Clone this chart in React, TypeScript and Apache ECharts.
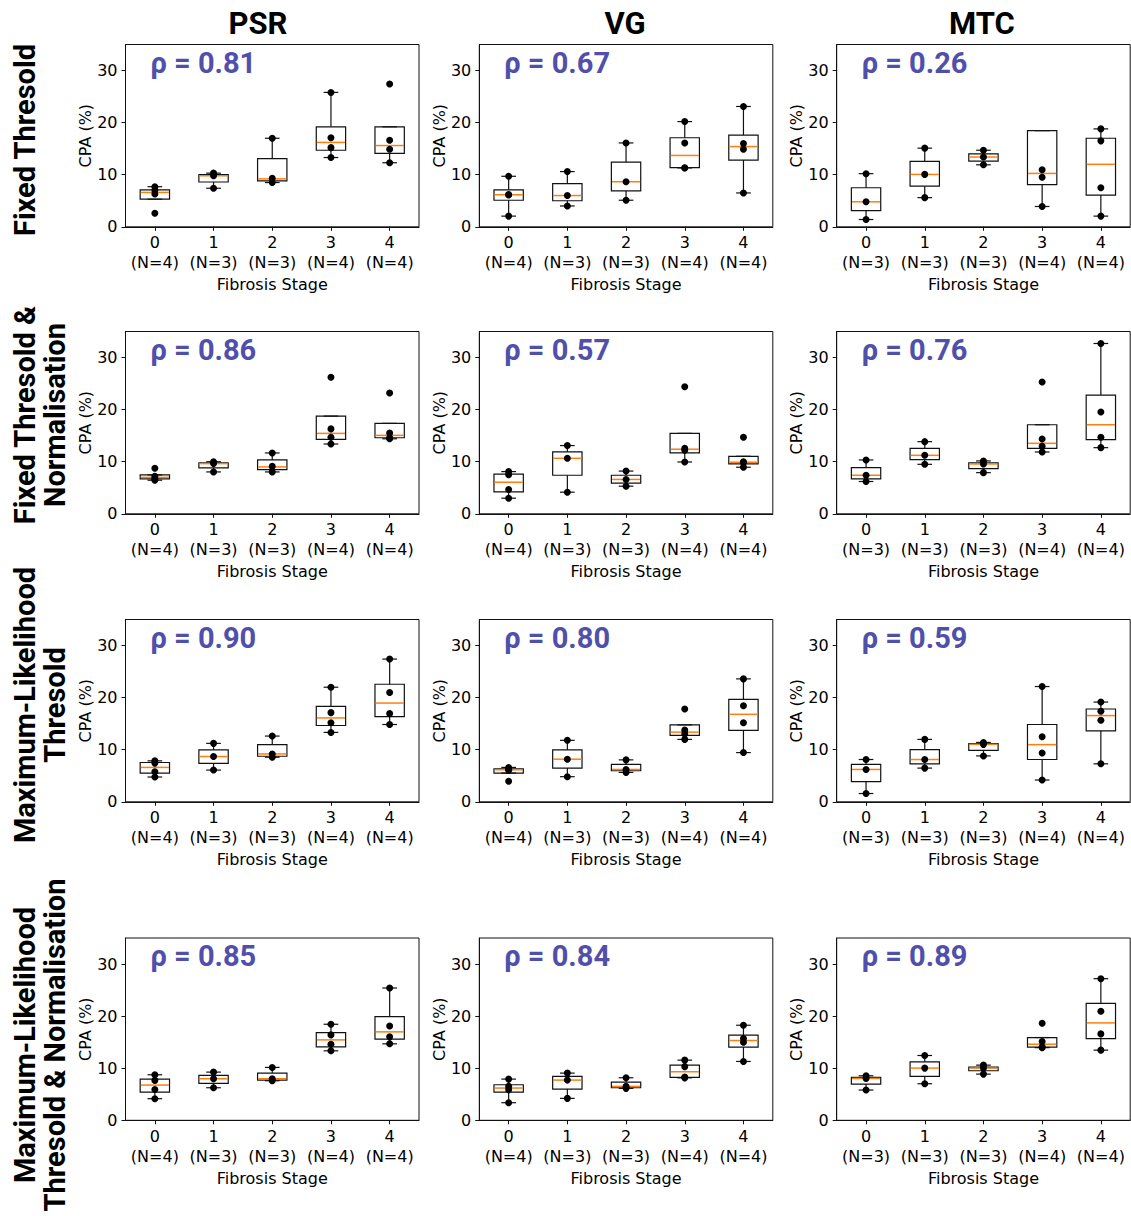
import React, { useEffect, useRef } from 'react';
import * as echarts from 'echarts';

// ---------- data ----------
const stages = ['0', '1', '2', '3', '4'];
const methods = ['PSR', 'VG', 'MTC'];
const nPSR = [4, 3, 3, 4, 4];
const nVG = [4, 3, 3, 4, 4];
const nMTC = [3, 3, 3, 4, 4];
const yTicks = [0, 10, 20, 30];

const rhoFixed = [0.81, 0.67, 0.26];
const rhoFixedNorm = [0.86, 0.57, 0.76];
const rhoML = [0.9, 0.8, 0.59];
const rhoMLNorm = [0.85, 0.84, 0.89];

// box stats per stage: [lowWhisker, Q1, median, Q3, highWhisker]
const fixedPSRBoxes = [[5.3, 5.3, 6.6, 7.1, 7.7], [7.4, 8.6, 9.8, 10.0, 10.3], [8.5, 8.8, 9.2, 13.1, 17.0], [13.3, 14.7, 16.2, 19.2, 25.8], [12.3, 14.1, 15.6, 19.2, 19.2]];
const fixedPSRPoints = [[2.6, 6.3, 7.0, 7.7], [7.4, 9.8, 10.3], [8.5, 9.3, 17.0], [13.3, 15.2, 17.1, 25.8], [12.3, 14.9, 16.6, 27.4]];
const fixedVGBoxes = [[2.05, 5.1, 6.15, 7.1, 9.7], [4.0, 5.0, 6.0, 8.3, 10.6], [5.1, 6.9, 8.65, 12.4, 16.1], [11.3, 11.35, 13.7, 17.1, 20.2], [6.5, 12.8, 15.4, 17.6, 23.1]];
const fixedVGPoints = [[2.05, 6.1, 6.2, 9.7], [4.0, 6.0, 10.6], [5.1, 8.65, 16.1], [11.3, 11.35, 16.1, 20.2], [6.5, 14.9, 16.0, 23.1]];
const fixedMTCBoxes = [[1.4, 3.1, 4.8, 7.5, 10.2], [5.6, 7.8, 10.06, 12.56, 15.1], [11.9, 12.6, 13.4, 14.0, 14.7], [3.9, 8.1, 10.25, 18.46, 18.46], [2.05, 6.1, 12.0, 17.0, 18.8]];
const fixedMTCPoints = [[1.4, 4.8, 10.2], [5.6, 10.06, 15.1], [11.9, 13.4, 14.7], [3.9, 9.5, 10.96], [2.05, 7.5, 16.5, 18.8]];

const fixedNormPSRBoxes = [[6.45, 6.7, 7.0, 7.47, 7.47], [8.04, 8.8, 9.64, 9.8, 10.0], [8.04, 8.5, 9.0, 10.34, 11.68], [13.4, 14.3, 15.44, 18.76, 18.76], [14.4, 14.6, 15.06, 17.36, 17.36]];
const fixedNormPSRPoints = [[6.45, 6.78, 7.22, 8.74], [8.04, 9.64, 10.0], [8.04, 9.1, 11.68], [13.4, 14.7, 16.3, 26.2], [14.4, 14.6, 15.5, 23.2]];
const fixedNormVGBoxes = [[3.0, 4.2, 6.06, 7.6, 8.1], [4.15, 7.4, 10.66, 11.9, 13.1], [5.3, 5.9, 6.6, 7.4, 8.2], [9.95, 11.68, 12.4, 15.44, 15.44], [8.94, 9.57, 9.9, 11.04, 11.04]];
const fixedNormVGPoints = [[3.0, 4.66, 7.5, 8.1], [4.15, 10.66, 13.1], [5.3, 6.6, 8.2], [9.95, 12.2, 12.6, 24.4], [8.94, 9.8, 10.0, 14.7]];
const fixedNormMTCBoxes = [[6.2, 6.7, 7.4, 8.87, 10.34], [9.5, 10.4, 11.23, 12.57, 13.85], [7.9, 8.68, 9.57, 9.76, 10.15], [11.87, 12.57, 13.53, 17.1, 17.1], [12.7, 14.25, 17.1, 22.8, 32.7]];
const fixedNormMTCPoints = [[6.2, 7.4, 10.34], [9.5, 11.23, 13.85], [7.9, 9.57, 10.15], [11.87, 12.95, 14.36, 25.3], [12.7, 14.7, 19.55, 32.7]];

const mlPSRBoxes = [[4.76, 5.52, 6.6, 7.55, 7.86], [6.09, 7.36, 8.69, 9.96, 11.22], [8.56, 8.75, 9.19, 10.97, 12.62], [13.32, 14.65, 16.1, 18.33, 22.0], [14.84, 16.36, 18.96, 22.57, 27.4]];
const mlPSRPoints = [[4.76, 5.77, 7.43, 7.86], [6.09, 8.69, 11.22], [8.56, 9.19, 12.62], [13.32, 15.16, 17.12, 22.0], [14.84, 16.93, 20.99, 27.4]];
const mlVGBoxes = [[5.52, 5.52, 6.15, 6.34, 6.6], [4.82, 6.47, 8.18, 9.96, 11.8], [5.64, 5.96, 6.21, 7.17, 8.05], [11.98, 12.75, 13.38, 14.77, 14.77], [9.45, 13.7, 16.8, 19.66, 23.6]];
const mlVGPoints = [[3.93, 6.05, 6.25, 6.6], [4.82, 8.18, 11.8], [5.64, 6.21, 8.05], [11.98, 13.0, 13.76, 17.82], [9.45, 15.16, 18.45, 23.6]];
const mlMTCBoxes = [[1.59, 3.87, 6.21, 7.17, 8.12], [6.47, 7.3, 8.12, 10.02, 11.98], [8.81, 9.89, 11.03, 11.16, 11.4], [4.18, 8.12, 10.97, 14.84, 22.13], [7.29, 13.63, 16.55, 17.82, 19.15]];
const mlMTCPoints = [[1.59, 6.21, 8.12], [6.47, 8.12, 11.98], [8.81, 11.03, 11.4], [4.18, 9.38, 12.49, 22.13], [7.29, 15.66, 17.38, 19.15]];

const mlNormPSRBoxes = [[4.15, 5.42, 6.76, 7.91, 8.74], [6.25, 7.08, 7.98, 8.62, 9.25], [7.6, 7.72, 7.98, 9.06, 10.15], [13.34, 14.1, 15.44, 16.85, 18.44], [14.68, 15.57, 16.98, 19.91, 25.4]];
const mlNormPSRPoints = [[4.15, 5.93, 7.66, 8.74], [6.25, 7.98, 9.25], [7.6, 7.98, 10.15], [13.34, 14.6, 16.4, 18.44], [14.68, 16.02, 18.12, 25.4]];
const mlNormVGBoxes = [[3.38, 5.42, 6.19, 6.83, 7.91], [4.21, 6.0, 7.72, 8.42, 9.06], [6.13, 6.25, 6.51, 7.34, 8.17], [8.15, 8.23, 9.32, 10.59, 11.55], [11.3, 14.04, 15.32, 16.34, 18.25]];
const mlNormVGPoints = [[3.38, 5.87, 6.51, 7.91], [4.21, 7.72, 9.06], [6.13, 6.51, 8.17], [8.15, 8.3, 10.3, 11.55], [11.3, 15.0, 15.7, 18.25]];
const mlNormMTCBoxes = [[5.81, 6.96, 8.04, 8.23, 8.55], [7.02, 8.42, 10.02, 11.23, 12.44], [8.87, 9.51, 10.02, 10.21, 10.59], [13.95, 14.04, 14.61, 15.89, 15.89], [13.47, 15.7, 18.7, 22.46, 27.19]];
const mlNormMTCPoints = [[5.81, 8.04, 8.55], [7.02, 10.02, 12.44], [8.87, 10.02, 10.59], [13.95, 14.1, 15.12, 18.63], [13.47, 16.59, 20.93, 27.19]];

// ---------- assembly ----------
const nCounts = [nPSR, nVG, nMTC];
const rhoRows = [rhoFixed, rhoFixedNorm, rhoML, rhoMLNorm];
const boxRows = [
  [fixedPSRBoxes, fixedVGBoxes, fixedMTCBoxes],
  [fixedNormPSRBoxes, fixedNormVGBoxes, fixedNormMTCBoxes],
  [mlPSRBoxes, mlVGBoxes, mlMTCBoxes],
  [mlNormPSRBoxes, mlNormVGBoxes, mlNormMTCBoxes],
];
const pointRows = [
  [fixedPSRPoints, fixedVGPoints, fixedMTCPoints],
  [fixedNormPSRPoints, fixedNormVGPoints, fixedNormMTCPoints],
  [mlPSRPoints, mlVGPoints, mlMTCPoints],
  [mlNormPSRPoints, mlNormVGPoints, mlNormMTCPoints],
];

// layout
const gridLefts = [125.5, 479.3, 836.7];
const gridTops = [44.5, 331.5, 619.5, 938];
const gridW = 293.5;
const gridH = 182.3;
const titleXs = [258, 625, 982];
const rowLabelLines = [
  [{ t: 'Fixed Thresold', x: 25, y: 140 }],
  [{ t: 'Fixed Thresold &', x: 25, y: 415 }, { t: 'Normalisation', x: 55, y: 415 }],
  [{ t: 'Maximum-Likelihood', x: 25, y: 705 }, { t: 'Thresold', x: 55, y: 705 }],
  [{ t: 'Maximum-Likelihood', x: 25, y: 1045 }, { t: 'Thresold & Normalisation', x: 55, y: 1045 }],
];

const AX_FONT = 'DejaVu Sans';
const TITLE_FONT = 'Roboto';
const INK = '#111';
const MEDIAN = '#ff7f0e';
const RHO = '#5050aa';

function renderBox(params: any, api: any) {
  const i = api.value(0);
  const cx = api.coord([i, api.value(3)])[0];
  const yLow = api.coord([i, api.value(1)])[1];
  const yQ1 = api.coord([i, api.value(2)])[1];
  const yMed = api.coord([i, api.value(3)])[1];
  const yQ3 = api.coord([i, api.value(4)])[1];
  const yHigh = api.coord([i, api.value(5)])[1];
  const band = api.size([1, 0])[0];
  const bw = band * 0.5;
  const cw = band * 0.25;
  const ls = { stroke: INK, lineWidth: 1.2, fill: 'none' };
  return {
    type: 'group',
    children: [
      { type: 'line', shape: { x1: cx, y1: yQ1, x2: cx, y2: yLow }, style: ls },
      { type: 'line', shape: { x1: cx, y1: yQ3, x2: cx, y2: yHigh }, style: ls },
      { type: 'line', shape: { x1: cx - cw / 2, y1: yLow, x2: cx + cw / 2, y2: yLow }, style: ls },
      { type: 'line', shape: { x1: cx - cw / 2, y1: yHigh, x2: cx + cw / 2, y2: yHigh }, style: ls },
      { type: 'rect', shape: { x: cx - bw / 2, y: yQ3, width: bw, height: yQ1 - yQ3 }, style: ls },
      { type: 'line', shape: { x1: cx - bw / 2 + 0.6, y1: yMed, x2: cx + bw / 2 - 0.6, y2: yMed }, style: { stroke: MEDIAN, lineWidth: 1.5 } },
    ],
  };
}

function buildOption() {
  const grids: any[] = [];
  const xAxes: any[] = [];
  const yAxes: any[] = [];
  const series: any[] = [];
  const graphics: any[] = [];

  methods.forEach((m, c) => {
    graphics.push({
      type: 'text',
      x: titleXs[c],
      y: 23,
      style: { text: m, font: `bold 31px ${TITLE_FONT}`, fill: '#000', align: 'center', verticalAlign: 'middle' },
    });
  });
  rowLabelLines.forEach((lines) => {
    lines.forEach((l) => {
      graphics.push({
        type: 'text',
        x: l.x,
        y: l.y,
        rotation: Math.PI / 2,
        style: { text: l.t, font: `bold 29px ${TITLE_FONT}`, fill: '#000', align: 'center', verticalAlign: 'middle' },
      });
    });
  });

  let k = 0;
  for (let r = 0; r < 4; r++) {
    for (let c = 0; c < 3; c++) {
      const n = nCounts[c];
      grids.push({
        left: gridLefts[c],
        top: gridTops[r],
        width: gridW,
        height: gridH,
        show: true,
        borderColor: INK,
        borderWidth: 1,
        backgroundColor: '#fff',
      });
      xAxes.push({
        type: 'category',
        gridIndex: k,
        data: stages,
        boundaryGap: true,
        axisLine: { show: true, lineStyle: { color: INK, width: 1 } },
        axisTick: { show: true, alignWithLabel: true, interval: 0, length: 4, lineStyle: { color: INK } },
        axisLabel: {
          interval: 0,
          hideOverlap: false,
          color: '#000',
          fontFamily: AX_FONT,
          fontSize: 16,
          lineHeight: 20,
          margin: 6,
          formatter: (v: string, idx: number) => `${v}\n(N=${n[idx]})`,
        },
        name: 'Fibrosis Stage',
        nameLocation: 'middle',
        nameGap: 50,
        nameTextStyle: { color: '#000', fontFamily: AX_FONT, fontSize: 16 },
        splitLine: { show: false },
      });
      yAxes.push({
        type: 'value',
        gridIndex: k,
        min: 0,
        max: 35,
        interval: 10,
        axisLine: { show: true, lineStyle: { color: INK, width: 1 } },
        axisTick: { show: true, length: 4, lineStyle: { color: INK }, customValues: yTicks },
        axisLabel: { color: '#000', fontFamily: AX_FONT, fontSize: 16, margin: 8, customValues: yTicks },
        splitLine: { show: false },
        name: 'CPA (%)',
        nameLocation: 'middle',
        nameGap: 32,
        nameTextStyle: { color: '#000', fontFamily: AX_FONT, fontSize: 16 },
      });
      const boxes = boxRows[r][c];
      series.push({
        type: 'custom',
        xAxisIndex: k,
        yAxisIndex: k,
        coordinateSystem: 'cartesian2d',
        renderItem: renderBox,
        encode: { x: 0, y: [1, 2, 3, 4, 5] },
        data: boxes.map((b, i) => [i, ...b]),
        clip: false,
        z: 2,
        silent: true,
      });
      const pts: number[][] = [];
      pointRows[r][c].forEach((vals, i) => vals.forEach((v) => pts.push([i, v])));
      series.push({
        type: 'scatter',
        xAxisIndex: k,
        yAxisIndex: k,
        data: pts,
        symbol: 'circle',
        symbolSize: 7,
        itemStyle: { color: '#000', opacity: 1 },
        z: 3,
        silent: true,
      });
      graphics.push({
        type: 'text',
        x: gridLefts[c] + 25,
        y: gridTops[r] + 18,
        z: 10,
        style: {
          text: `ρ = ${rhoRows[r][c].toFixed(2)}`,
          font: `bold 29px ${TITLE_FONT}`,
          fill: RHO,
          align: 'left',
          verticalAlign: 'middle',
        },
      });
      k++;
    }
  }

  return {
    animation: false,
    backgroundColor: '#fff',
    grid: grids,
    xAxis: xAxes,
    yAxis: yAxes,
    series,
    graphic: graphics,
  };
}

export default function App() {
  const ref = useRef<HTMLDivElement>(null);
  useEffect(() => {
    const chart = echarts.init(ref.current!, null, { renderer: 'svg' });
    chart.setOption(buildOption() as any);
    return () => chart.dispose();
  }, []);
  return (
    <div
      ref={ref}
      style={{ position: 'absolute', left: 0, top: 0, width: 1131, height: 1216, background: '#fff' }}
    />
  );
}
